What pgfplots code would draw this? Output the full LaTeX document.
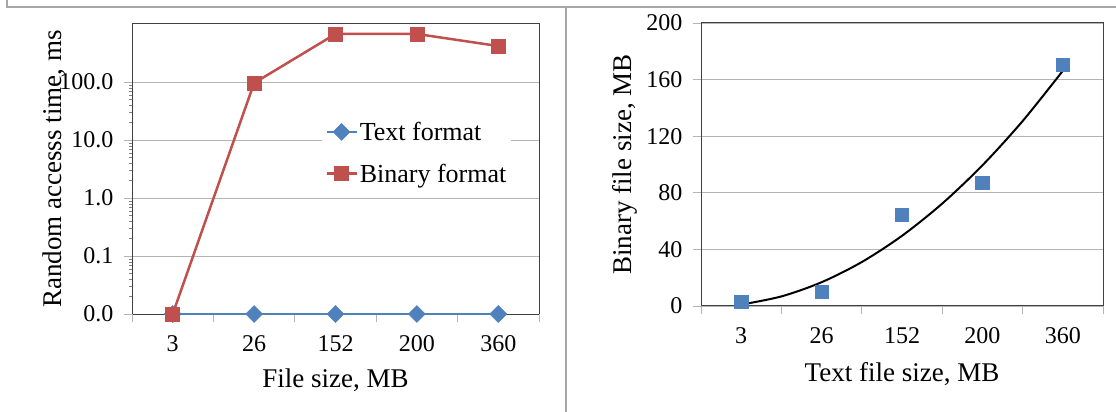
\documentclass[border=0pt]{standalone}
\usepackage{fontspec}
\setmainfont{Liberation Serif}
\usepackage{pgfplots}
\pgfplotsset{compat=1.18}
\definecolor{xlblue}{HTML}{4F81BD}
\definecolor{xlred}{HTML}{C0504D}
\definecolor{gridc}{HTML}{B4B4B4}
\definecolor{framec}{HTML}{404040}
\definecolor{outerc}{HTML}{A6A6A6}

\pgfplotsset{
 excel/.style={
  scale only axis,
  xmin=0.5, xmax=5.5,
  xtick={1,2,3,4,5},
  xticklabels={3,26,152,200,360},
  tick pos=left,
  tick align=outside,
  major tick length=8pt,
  major x tick style={draw=none},
  extra x ticks={0.5,1.5,2.5,3.5,4.5,5.5},
  extra x tick labels={},
  extra x tick style={major x tick style={draw=gridc, line width=0.8pt}, grid=none},
  major y tick style={draw=gridc, line width=0.8pt},
  ymajorgrids,
  major grid style={draw=gridc, line width=0.8pt},
  axis line style={draw=framec, line width=1pt},
  tick label style={font=\fontsize{24}{28}\selectfont},
  xticklabel style={yshift=-10pt},
  yticklabel style={xshift=-7pt},
  label style={font=\fontsize{27}{31}\selectfont},
  /pgf/number format/assume math mode=true,
 }
}

\pgfplotstableread{
x text binary
1 0.01 0.01
2 0.01 96
3 0.01 673
4 0.01 673
5 0.01 417
}\leftdata

\pgfplotstableread{
x size
1 2.8
2 9.9
3 64.3
4 86.9
5 170.3
}\rightdata

\pgfplotstableread{
x fit
1.0 1.0
1.5 6.775
2.0 16.8
2.5 31.075
3.0 49.6
3.5 72.375
4.0 99.4
4.5 130.675
5.0 166.2
}\fitdata

\begin{document}
\begin{tikzpicture}
% outer chart frames
\draw[outerc, line width=1.2pt] (7pt,412pt) -- (7pt,405pt) -- (1116pt,405pt);
\draw[outerc, line width=1.2pt] (566pt,405pt) -- (566pt,0pt);

\begin{axis}[excel,
  at={(132pt,98pt)}, anchor=south west,
  width=407pt, height=290pt,
  ymode=log, ymin=0.01, ymax=1000,
  ytick={0.01,0.1,1,10,100},
  yticklabels={0.0,0.1,1.0,10.0,100.0},
  minor ytick={},
  ylabel={Random accesss time, ms},
  xlabel={File size, MB},
  ylabel style={at={(axis description cs:-0.19,0.5)}, anchor=center},
  xlabel style={at={(axis description cs:0.5,-0.228)}, anchor=center},
  legend cell align=left,
  legend style={at={(0.467,0.68)}, anchor=north west, draw=none, fill=white,
    font=\fontsize{26}{30}\selectfont, row sep=18pt, inner sep=3pt},
  legend image code/.code={\draw[mark repeat=2,mark phase=2,#1] plot coordinates {(0pt,0pt) (15pt,0pt) (30pt,0pt)};},
]
\addplot[xlblue, line width=2.5pt, mark=square*, mark size=6pt,
  mark options={rotate=45, solid, fill=xlblue, draw=xlblue, line width=0.5pt}]
  table[x=x, y=text] {\leftdata};
\addlegendentry{Text format}
\addplot[xlred, line width=2.5pt, mark=square*, mark size=7pt,
  mark options={solid, fill=xlred, draw=xlred, line width=0.5pt}]
  table[x=x, y=binary] {\leftdata};
\addlegendentry{Binary format}
\end{axis}

\begin{axis}[excel,
  at={(701pt,106pt)}, anchor=south west,
  width=402pt, height=283pt,
  ymin=0, ymax=200,
  ytick={0,40,80,120,160,200},
  yticklabels={0,40,80,120,160,200},
  ylabel={Binary file size, MB},
  xlabel={Text file size, MB},
  ylabel style={at={(axis description cs:-0.189,0.5)}, anchor=center},
  xlabel style={at={(axis description cs:0.5,-0.24)}, anchor=center},
]
\addplot[only marks, mark=square*, mark size=6.7pt,
  mark options={fill=xlblue, draw=xlblue, line width=0.5pt}]
  table[x=x, y=size] {\rightdata};
\addplot[black, line width=2pt, smooth, no marks] table[x=x, y=fit] {\fitdata};
\end{axis}

\pgfresetboundingbox
\useasboundingbox (0pt,0pt) rectangle (1116pt,412pt);
\end{tikzpicture}
\end{document}
